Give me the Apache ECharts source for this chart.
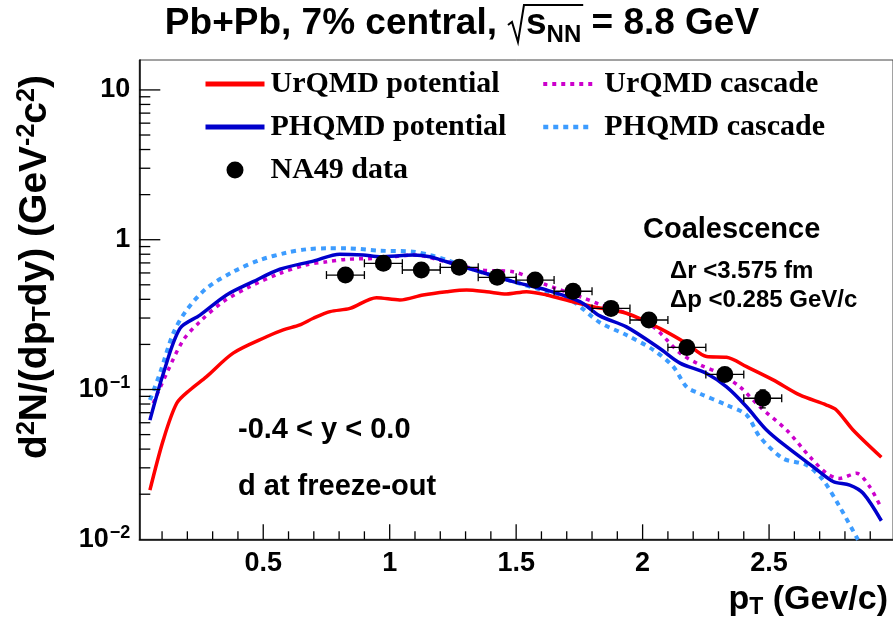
<!DOCTYPE html>
<html><head><meta charset="utf-8">
<script src="https://cdn.jsdelivr.net/npm/echarts@6/dist/echarts.min.js"></script>
<style>html,body{margin:0;padding:0;background:#fff}#c{width:893px;height:623px}</style>
</head><body><div id="c"></div>
<script>
// ---------------- data ----------------
const X_MIN = 0.01, X_MAX = 2.99, Y_MIN = 0.01, Y_MAX = 15.84;
const xMajorTicks = [0.5, 1, 1.5, 2, 2.5];
const xTickLabels = ['0.5', '1', '1.5', '2', '2.5'];
const xMinorTicks = [0.1,0.2,0.3,0.4,0.6,0.7,0.8,0.9,1.1,1.2,1.3,1.4,1.6,1.7,1.8,1.9,2.1,2.2,2.3,2.4,2.6,2.7,2.8,2.9];
const yMajorTicks = [0.1, 1, 10];
const yMinorTicks = [0.02,0.03,0.04,0.05,0.06,0.07,0.08,0.09,0.2,0.3,0.4,0.5,0.6,0.7,0.8,0.9,2,3,4,5,6,7,8,9];

const urqmdPotential = [[0.052,0.0213],[0.105,0.0461],[0.158,0.0809],[0.210,0.0993],[0.276,0.122],[0.381,0.175],[0.513,0.225],[0.579,0.250],[0.645,0.270],[0.698,0.299],[0.764,0.331],[0.843,0.348],[0.948,0.410],[1.040,0.396],[1.132,0.428],[1.225,0.450],[1.304,0.462],[1.383,0.450],[1.462,0.434],[1.541,0.450],[1.620,0.428],[1.712,0.39],[1.804,0.357],[1.936,0.323],[2.068,0.256],[2.174,0.203],[2.253,0.166],[2.332,0.164],[2.411,0.142],[2.516,0.116],[2.621,0.092],[2.727,0.0788],[2.766,0.073],[2.832,0.0537],[2.944,0.0353]];
const phqmdPotential = [[0.052,0.0625],[0.105,0.128],[0.171,0.256],[0.250,0.314],[0.355,0.428],[0.460,0.525],[0.566,0.635],[0.698,0.72],[0.803,0.80],[0.895,0.790],[0.961,0.770],[1.093,0.790],[1.159,0.770],[1.225,0.713],[1.291,0.660],[1.357,0.611],[1.488,0.525],[1.620,0.462],[1.752,0.386],[1.831,0.31],[1.936,0.262],[2.068,0.188],[2.148,0.150],[2.253,0.128],[2.332,0.104],[2.411,0.0767],[2.490,0.0537],[2.569,0.0415],[2.674,0.0305],[2.753,0.0243],[2.819,0.0230],[2.872,0.0203],[2.944,0.0133]];
const urqmdCascade = [[0.065,0.0809],[0.118,0.128],[0.184,0.214],[0.250,0.284],[0.342,0.386],[0.447,0.486],[0.566,0.597],[0.672,0.68],[0.751,0.713],[0.830,0.740],[0.961,0.752],[1.093,0.790],[1.225,0.713],[1.357,0.628],[1.488,0.611],[1.620,0.499],[1.752,0.417],[1.831,0.37],[1.936,0.323],[2.042,0.262],[2.148,0.175],[2.227,0.146],[2.306,0.128],[2.385,0.104],[2.463,0.0767],[2.569,0.0537],[2.661,0.0356],[2.727,0.0276],[2.779,0.0255],[2.845,0.0276],[2.898,0.0224],[2.944,0.0161]];
const phqmdCascade = [[0.052,0.0851],[0.092,0.129],[0.144,0.237],[0.197,0.339],[0.276,0.474],[0.381,0.611],[0.487,0.732],[0.592,0.819],[0.672,0.863],[0.751,0.876],[0.830,0.876],[0.961,0.845],[1.093,0.832],[1.159,0.790],[1.225,0.732],[1.291,0.667],[1.357,0.611],[1.488,0.525],[1.620,0.450],[1.725,0.386],[1.831,0.28],[1.936,0.231],[2.042,0.184],[2.121,0.142],[2.174,0.104],[2.226,0.094],[2.332,0.0788],[2.411,0.0676],[2.463,0.0484],[2.555,0.0347],[2.648,0.0313],[2.713,0.0249],[2.779,0.0165],[2.845,0.0104],[2.90,0.0070]];

const na49X = [0.825,0.975,1.125,1.275,1.425,1.575,1.725,1.875,2.025,2.175,2.325,2.475];
const na49Y = [0.581,0.696,0.628,0.654,0.561,0.538,0.453,0.348,0.291,0.191,0.126,0.0874];
const na49Xerr = [0.075,0.075,0.075,0.075,0.075,0.075,0.075,0.075,0.075,0.075,0.075,0.075];
const na49Yerr = [0.03,0.035,0.03,0.03,0.03,0.03,0.025,0.02,0.018,0.012,0.009,0.012];

// ---------------- helpers ----------------
const SANS = '"Liberation Sans", Arial, Helvetica, sans-serif';
const SERIF = '"Liberation Serif", "Times New Roman", serif';
const mctx = document.createElement('canvas').getContext('2d');
function tw(t, size, fam) { mctx.font = 'bold ' + size + 'px ' + fam; return mctx.measureText(t).width; }

const tickData = [];
xMajorTicks.forEach(v => tickData.push([v, Y_MIN, 0]));
xMinorTicks.forEach(v => tickData.push([v, Y_MIN, 1]));
yMajorTicks.forEach(v => tickData.push([X_MIN, v, 2]));
yMinorTicks.forEach(v => tickData.push([X_MIN, v, 3]));
const TICK_LEN = [15, 8, 21, 11];

const errData = na49X.map((x, i) => [x, na49Y[i], na49Xerr[i], na49Yerr[i]]);
const na49 = na49X.map((x, i) => [x, na49Y[i]]);

// title pieces
const TS = 37, TSUB = 24;
const t1 = 'Pb+Pb, 7% central,', t2 = 's', t3 = 'NN', t4 = ' = 8.8 GeV';
const ROOTW = 29;
const w1 = tw(t1, TS, SANS), w2 = tw(t2, TS, SANS), w3 = tw(t3, TSUB, SANS), w4 = tw(t4, TS, SANS);
const total = w1 + ROOTW + w2 + w3 + w4;
const tx0 = 462 - total / 2;
const sx = tx0 + w1 + ROOTW;
const ex = sx + w2 + w3;
const TY = 24;

const lineLegendItem = (name, w) => ({name: name, itemStyle: {opacity: 0}, lineStyle: {width: w}});
const legendText = {fontFamily: SERIF, fontWeight: 'bold', fontSize: 30, lineHeight: 30, color: '#000'};

const chart = echarts.init(document.getElementById('c'), null, {renderer: 'canvas'});
chart.setOption({
  animation: false,
  backgroundColor: '#fff',
  grid: {left: 139.3, right: 0, top: 60, bottom: 83.7, show: true, borderColor: '#444', borderWidth: 1, backgroundColor: 'transparent'},
  xAxis: {
    type: 'value', min: X_MIN, max: X_MAX,
    axisLine: {show: true, lineStyle: {color: '#000', width: 1.5}},
    axisTick: {show: false}, splitLine: {show: false},
    axisLabel: {
      customValues: xMajorTicks,
      formatter: v => { const i = xMajorTicks.findIndex(t => Math.abs(t - v) < 1e-6); return i >= 0 ? xTickLabels[i] : ''; },
      margin: 11, color: '#000', fontFamily: SANS, fontWeight: 'bold', fontSize: 27
    }
  },
  yAxis: {
    type: 'log', logBase: 10, min: Y_MIN, max: Y_MAX,
    axisLine: {show: true, lineStyle: {color: '#000', width: 1.5}},
    axisTick: {show: false}, splitLine: {show: false}, minorTick: {show: false},
    axisLabel: {
      margin: 9, color: '#000', fontFamily: SANS, fontWeight: 'bold', fontSize: 27,
      formatter: v => {
        const l = Math.log10(v), e = Math.round(l);
        if (Math.abs(l - e) > 1e-6) return '';
        if (e === 1) return '10';
        if (e === 0) return '1';
        return '10{sup|\u2212' + (-e) + '}';
      },
      rich: {sup: {fontSize: 18, fontFamily: SANS, fontWeight: 'bold', color: '#000', verticalAlign: 'top', padding: [0, 0, 12, 1]}}
    }
  },
  legend: [
    {data: [lineLegendItem('UrQMD potential', 5), lineLegendItem('PHQMD potential', 5), {name: 'NA49 data', itemStyle: {opacity: 1}}],
     orient: 'vertical', left: 198, top: 64,
     itemWidth: 59, itemHeight: 17, itemGap: 13, selectedMode: false,
     textStyle: Object.assign({padding: [0, 0, 0, 1]}, legendText)},
    {data: [lineLegendItem('UrQMD cascade', 4), lineLegendItem('PHQMD cascade', 4.5)],
     orient: 'vertical', left: 536, top: 64,
     itemWidth: 50, itemHeight: 17, itemGap: 13, selectedMode: false,
     textStyle: Object.assign({padding: [0, 0, 0, 6]}, legendText)}
  ],
  graphic: [
    {type: 'text', x: tx0, y: TY, style: {text: t1, font: 'bold ' + TS + 'px ' + SANS, fill: '#000', textVerticalAlign: 'middle', textAlign: 'left'}},
    {type: 'text', x: sx, y: TY, style: {text: t2, font: 'bold ' + TS + 'px ' + SANS, fill: '#000', textVerticalAlign: 'middle', textAlign: 'left'}},
    {type: 'text', x: sx + w2, y: TY + 11, style: {text: t3, font: 'bold ' + TSUB + 'px ' + SANS, fill: '#000', textVerticalAlign: 'middle', textAlign: 'left'}},
    {type: 'text', x: ex, y: TY, style: {text: t4, font: 'bold ' + TS + 'px ' + SANS, fill: '#000', textVerticalAlign: 'middle', textAlign: 'left'}},
    {type: 'polyline', shape: {points: [[sx - 18, 25], [sx - 14, 22], [sx - 8, 42], [sx - 2, 5], [ex + 2, 5]]}, style: {stroke: '#000', lineWidth: 2, fill: null}},
    {type: 'text', x: 643, y: 230, style: {text: 'Coalescence', font: 'bold 29px ' + SANS, fill: '#000', textVerticalAlign: 'middle'}},
    {type: 'text', x: 670, y: 271, style: {text: '\u0394r <3.575 fm', font: 'bold 24px ' + SANS, fill: '#000', textVerticalAlign: 'middle'}},
    {type: 'text', x: 670, y: 300, style: {text: '\u0394p <0.285 GeV/c', font: 'bold 24px ' + SANS, fill: '#000', textVerticalAlign: 'middle'}},
    {type: 'text', x: 238, y: 430, style: {text: '-0.4 < y < 0.0', font: 'bold 29px ' + SANS, fill: '#000', textVerticalAlign: 'middle'}},
    {type: 'text', x: 238, y: 487, style: {text: 'd at freeze-out', font: 'bold 29px ' + SANS, fill: '#000', textVerticalAlign: 'middle'}},
    {type: 'text', x: 888, y: 600, style: {
      text: 'p{sub|T} (Gev/c)', font: 'bold 34px ' + SANS, fill: '#000', textAlign: 'right', textVerticalAlign: 'middle',
      rich: {sub: {fontSize: 23, fontFamily: SANS, fontWeight: 'bold', verticalAlign: 'bottom', padding: [15, 0, 0, 0]}}}},
    {type: 'text', x: 35, y: 267, rotation: Math.PI / 2, style: {
      text: 'd{sup|2}N/(dp{sub|T}dy) (GeV{sup|-2}c{sup|2})', font: 'bold 39px ' + SANS, fill: '#000', textAlign: 'center', textVerticalAlign: 'middle',
      rich: {
        sup: {fontSize: 25, fontFamily: SANS, fontWeight: 'bold', verticalAlign: 'top', padding: [0, 0, 16, 0]},
        sub: {fontSize: 25, fontFamily: SANS, fontWeight: 'bold', verticalAlign: 'bottom', padding: [15, 0, 0, 0]}
      }}}
  ],
  series: [
    {name: 'PHQMD cascade', type: 'line', data: phqmdCascade, symbol: 'none', showSymbol: false, smooth: 0.3, clip: true,
     lineStyle: {color: '#3d9cff', width: 4, type: [5, 5]}, itemStyle: {color: '#3d9cff'}, z: 2},
    {name: 'UrQMD cascade', type: 'line', data: urqmdCascade, symbol: 'none', showSymbol: false, smooth: 0.3, clip: true,
     lineStyle: {color: '#cc00cc', width: 3.5, type: [4, 5]}, itemStyle: {color: '#cc00cc'}, z: 3},
    {name: 'UrQMD potential', type: 'line', data: urqmdPotential, symbol: 'none', showSymbol: false, smooth: 0.3, clip: true,
     lineStyle: {color: '#ff0000', width: 3.5}, itemStyle: {color: '#ff0000'}, z: 4},
    {name: 'PHQMD potential', type: 'line', data: phqmdPotential, symbol: 'none', showSymbol: false, smooth: 0.3, clip: true,
     lineStyle: {color: '#0000cc', width: 3.5}, itemStyle: {color: '#0000cc'}, z: 5},
    {type: 'custom', name: 'errors', data: errData, z: 6, clip: false,
     renderItem: (params, api) => {
       const x = api.value(0), y = api.value(1), xe = api.value(2), ye = api.value(3);
       const l = api.coord([x - xe, y]), r = api.coord([x + xe, y]);
       const b = api.coord([x, y - ye]), t = api.coord([x, y + ye]);
       const st = {stroke: '#000', lineWidth: 1.3};
       return {type: 'group', children: [
         {type: 'line', shape: {x1: l[0], y1: l[1], x2: r[0], y2: r[1]}, style: st},
         {type: 'line', shape: {x1: l[0], y1: l[1] - 4, x2: l[0], y2: l[1] + 4}, style: st},
         {type: 'line', shape: {x1: r[0], y1: r[1] - 4, x2: r[0], y2: r[1] + 4}, style: st},
         {type: 'line', shape: {x1: b[0], y1: b[1], x2: t[0], y2: t[1]}, style: st},
         {type: 'line', shape: {x1: b[0] - 3, y1: b[1], x2: b[0] + 3, y2: b[1]}, style: st},
         {type: 'line', shape: {x1: t[0] - 3, y1: t[1], x2: t[0] + 3, y2: t[1]}, style: st}
       ]};
     }},
    {name: 'NA49 data', type: 'scatter', data: na49, symbol: 'circle', symbolSize: 17, itemStyle: {color: '#000', opacity: 1}, z: 7},
    {type: 'custom', name: 'ticks', data: tickData, z: 8, clip: false, silent: true,
     renderItem: (params, api) => {
       const k = api.value(2);
       const p = api.coord([api.value(0), api.value(1)]);
       const L = TICK_LEN[k];
       const shape = k < 2 ? {x1: p[0], y1: p[1], x2: p[0], y2: p[1] - L} : {x1: p[0], y1: p[1], x2: p[0] + L, y2: p[1]};
       return {type: 'line', shape: shape, style: {stroke: '#000', lineWidth: 1.3}};
     }}
  ]
});
</script>
</body></html>
